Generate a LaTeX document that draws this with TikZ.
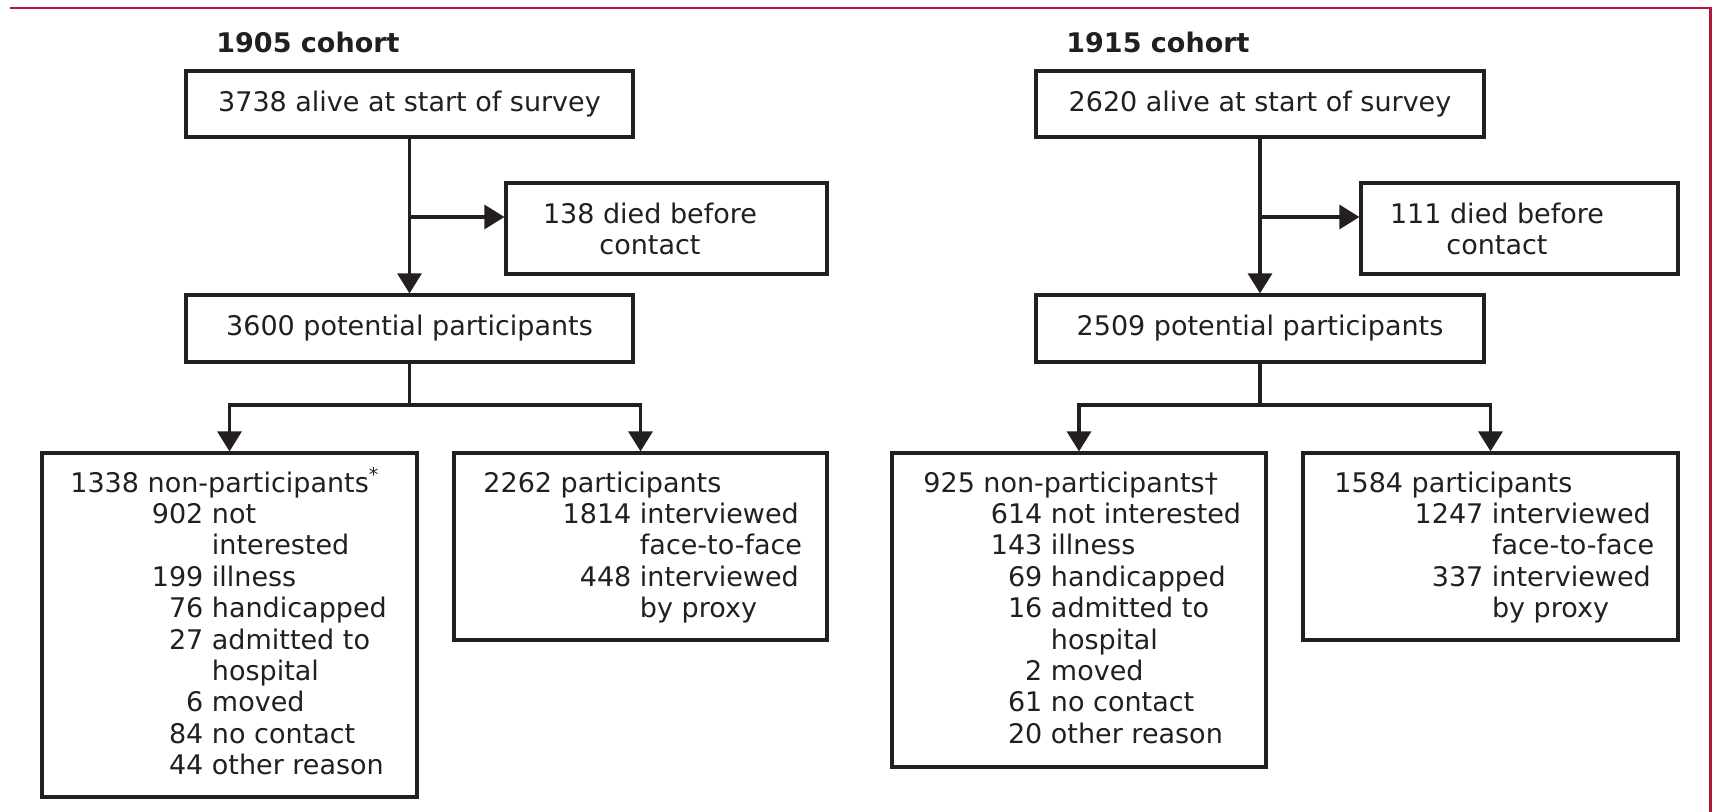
\documentclass[tikz,border=0pt]{standalone}
\usepackage{fontspec}
\setmainfont{DejaVu Sans}
\usepackage{array}
\usetikzlibrary{arrows.meta}
\definecolor{lancetred}{HTML}{B2173A}
\definecolor{ink}{HTML}{231F20}
\begin{document}
\begin{tikzpicture}[x=0.5pt,y=-0.5pt,
  every node/.style={font=\fontsize{13.5}{15.7}\selectfont, text=ink},
  box/.style={draw=ink, line width=1.6pt, inner sep=0pt, rectangle},
  conn/.style={draw=ink, line width=1.6pt},
  arr/.style={conn, -{Triangle[length=10pt,width=12pt]}},
  title/.style={font=\fontsize{13.5}{15.7}\selectfont\bfseries, anchor=base west, inner sep=0pt},
  txt/.style={anchor=base west, inner sep=0pt},
  ctxt/.style={align=center, inner sep=0pt},
]
\useasboundingbox (0,0) rectangle (1713,812);
\fill[white] (0,0) rectangle (1713,812);
\draw[lancetred, line width=1.1pt] (10,8) -- (1710.5,8) -- (1710.5,812);

% ---------- 1905 cohort ----------
\node[title] (h1) at (216,53) {1905 cohort};
\node[box, minimum width=223.5pt, minimum height=33pt] (a1) at (409.5,104) {3738 alive at start of survey};
\node[box, minimum width=160.5pt, minimum height=45.5pt] (d1) at (666.5,228.5) {};
\node[ctxt] (d1t) at (650,229) {138 died before\\contact};
\node[box, minimum width=223.5pt, minimum height=33.5pt] (p1) at (409.5,328.5) {3600 potential participants};
\node[box, minimum width=187.5pt, minimum height=172pt] (n1) at (229.5,625) {};
\node[box, minimum width=186.5pt, minimum height=93.5pt] (q1) at (640.5,546.5) {};
\node[txt] (n1t) at (70,492) {\begin{tabular}[t]{@{}>{\raggedleft\arraybackslash}p{66.5pt}@{\ }l@{}}
\multicolumn{2}{@{}l@{}}{1338 non-participants\textsuperscript{*}}\\
902 & not\\
 & interested\\
199 & illness\\
76 & handicapped\\
27 & admitted to\\
 & hospital\\
6 & moved\\
84 & no contact\\
44 & other reason
\end{tabular}};
\node[txt] (q1t) at (483,492) {\begin{tabular}[t]{@{}>{\raggedleft\arraybackslash}p{74pt}@{\ }l@{}}
\multicolumn{2}{@{}l@{}}{2262 participants}\\
1814 & interviewed\\
 & face-to-face\\
448 & interviewed\\
 & by proxy
\end{tabular}};
\coordinate (j1) at (409.5,217);
\coordinate (k1) at (409.5,405);
\draw[arr] (a1) -- (p1);
\draw[arr] (j1) -- (j1 -| d1.west);
\draw[conn] (p1.south) -- (k1);
\draw[arr] (k1) -| (n1.north);
\draw[arr] (k1) -| (q1.north);

% ---------- 1915 cohort ----------
\node[title] (h2) at (1066,53) {1915 cohort};
\node[box, minimum width=224pt, minimum height=33pt] (a2) at (1260,104) {2620 alive at start of survey};
\node[box, minimum width=158.5pt, minimum height=45.5pt] (d2) at (1519.5,228.5) {};
\node[ctxt] (d2t) at (1497,229) {111 died before\\contact};
\node[box, minimum width=224pt, minimum height=33.5pt] (p2) at (1260,328.5) {2509 potential participants};
\node[box, minimum width=187pt, minimum height=157pt] (n2) at (1079,610) {};
\node[box, minimum width=187.5pt, minimum height=93.5pt] (q2) at (1490.5,546.5) {};
\node[txt] (n2t) at (923,492) {\begin{tabular}[t]{@{}>{\raggedleft\arraybackslash}p{59.5pt}@{\ }l@{}}
\multicolumn{2}{@{}l@{}}{925 non-participants†}\\
614 & not interested\\
143 & illness\\
69 & handicapped\\
16 & admitted to\\
 & hospital\\
2 & moved\\
61 & no contact\\
20 & other reason
\end{tabular}};
\node[txt] (q2t) at (1334,492) {\begin{tabular}[t]{@{}>{\raggedleft\arraybackslash}p{74.5pt}@{\ }l@{}}
\multicolumn{2}{@{}l@{}}{1584 participants}\\
1247 & interviewed\\
 & face-to-face\\
337 & interviewed\\
 & by proxy
\end{tabular}};
\coordinate (j2) at (1260,217);
\coordinate (k2) at (1260,405);
\draw[arr] (a2) -- (p2);
\draw[arr] (j2) -- (j2 -| d2.west);
\draw[conn] (p2.south) -- (k2);
\draw[arr] (k2) -| (n2.north);
\draw[arr] (k2) -| (q2.north);
\end{tikzpicture}
\end{document}
